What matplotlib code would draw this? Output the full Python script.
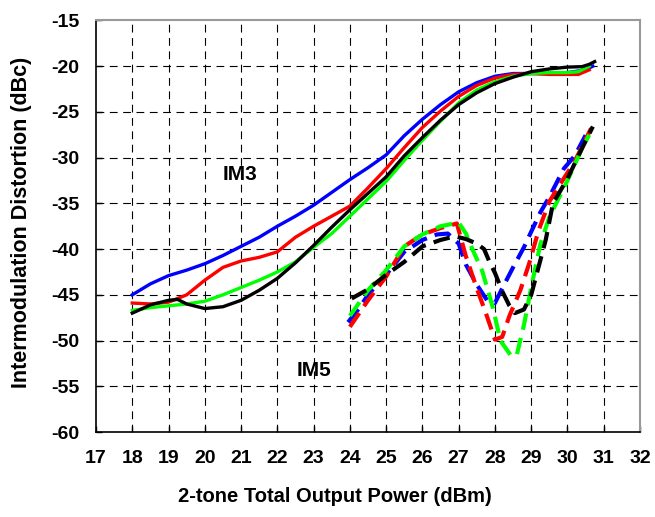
import matplotlib
matplotlib.use('Agg')
import matplotlib.pyplot as plt

plt.rcParams['font.family'] = ['Liberation Sans', 'DejaVu Sans']
plt.rcParams['font.weight'] = 'bold'
plt.rcParams['axes.unicode_minus'] = False

# IM3 curves (solid)
im3_blue_x = [18, 18.5, 19, 19.5, 20, 20.5, 21, 21.5, 22, 22.5, 23, 23.5, 24, 24.5, 25, 25.5, 26, 26.5,
              27, 27.5, 28, 28.5, 29, 29.5, 30, 30.5, 30.7]
im3_blue_y = [-45.0, -43.8, -42.9, -42.3, -41.6, -40.7, -39.7, -38.7, -37.5, -36.4, -35.2, -33.8, -32.4,
              -31.1, -29.7, -27.6, -25.8, -24.2, -22.8, -21.8, -21.1, -20.8, -20.8, -20.8, -20.7, -20.4, -20.0]

im3_red_x = [18, 18.5, 19, 19.5, 20, 20.5, 21, 21.5, 22, 22.5, 23, 23.5, 24, 24.5, 25, 25.5, 26, 26.5,
             27, 27.5, 28, 28.5, 29, 29.5, 30, 30.3, 30.6]
im3_red_y = [-45.9, -46.0, -45.8, -45.0, -43.4, -42.0, -41.3, -40.9, -40.3, -38.7, -37.5, -36.4, -35.3,
             -33.3, -31.2, -28.9, -26.7, -24.9, -23.3, -22.1, -21.3, -20.9, -20.8, -20.9, -20.9, -20.9, -20.4]

im3_green_x = [18, 18.5, 19, 19.5, 20, 20.5, 21, 21.5, 22, 22.5, 23, 23.5, 24, 24.5, 25, 25.5, 26, 26.5,
               27, 27.5, 28, 28.5, 29, 29.5, 30, 30.3, 30.6]
im3_green_y = [-46.7, -46.4, -46.2, -46.0, -45.7, -45.0, -44.2, -43.4, -42.5, -41.4, -39.8, -38.3, -36.4,
               -34.5, -32.6, -30.3, -28.1, -26.0, -24.0, -22.6, -21.7, -21.1, -20.8, -20.7, -20.7, -20.6, -20.0]

im3_black_x = [18, 18.5, 19, 19.25, 19.5, 20, 20.5, 21, 21.5, 22, 22.5, 23, 23.5, 24, 24.5, 25, 25.5, 26,
               26.5, 27, 27.5, 28, 28.5, 29, 29.5, 30, 30.4, 30.6, 30.75]
im3_black_y = [-47.0, -46.1, -45.6, -45.5, -46.0, -46.5, -46.3, -45.6, -44.5, -43.2, -41.5, -39.6, -37.6,
               -35.7, -33.9, -32.1, -29.8, -27.8, -25.9, -24.2, -22.9, -21.9, -21.2, -20.6, -20.3, -20.1,
               -20.05, -19.8, -19.5]

# IM5 curves (dashed)
im5_blue_x = [23.95, 24.25, 24.5, 25, 25.5, 26, 26.4, 26.7, 27, 27.2, 27.5, 27.8, 28.0, 28.2, 28.5, 28.8,
              29.0, 29.25, 29.5, 29.9, 30.2, 30.6]
im5_blue_y = [-48.0, -46.5, -45.0, -42.8, -40.3, -39.0, -38.4, -38.3, -39.4, -41.7, -43.9, -45.7, -45.9,
              -44.3, -42.0, -39.8, -38.1, -36.0, -34.3, -31.2, -29.8, -26.8]

im5_red_x = [24.0, 24.5, 25, 25.5, 26, 26.5, 26.95, 27.2, 27.5, 27.75, 28.0, 28.2, 28.4, 28.7, 28.95,
             29.2, 29.5, 29.8, 30.2, 30.65]
im5_red_y = [-48.5, -45.6, -43.0, -39.7, -38.4, -37.7, -37.2, -40.8, -44.3, -47.0, -49.9, -49.6, -47.3,
             -44.5, -41.5, -38.0, -34.8, -32.9, -30.4, -26.8]

im5_green_x = [24.0, 24.5, 25, 25.5, 26, 26.5, 27.0, 27.2, 27.4, 27.65, 27.95, 28.15, 28.45, 28.6, 28.8,
               29.0, 29.25, 29.5, 30.0, 30.4, 30.6]
im5_green_y = [-47.3, -44.5, -42.3, -39.7, -38.4, -37.5, -37.1, -38.3, -40.2, -42.4, -46.5, -50.0, -51.7,
               -51.6, -48.3, -44.2, -39.5, -36.5, -32.5, -29.0, -27.5]

im5_black_x = [24.05, 24.5, 25, 25.5, 26, 26.5, 26.9, 27.2, 27.5, 27.7, 27.85, 28.0, 28.2, 28.4, 28.55,
               28.8, 29.0, 29.2, 29.4, 29.6, 30.0, 30.3, 30.7]
im5_black_y = [-45.4, -44.4, -42.8, -41.4, -39.7, -39.0, -38.6, -38.9, -39.4, -40.0, -41.4, -42.6, -44.6,
               -46.2, -47.0, -46.6, -45.0, -42.0, -39.0, -35.0, -32.3, -29.8, -26.6]

x_ticks = list(range(17, 33))
y_ticks = list(range(-60, -14, 5))

fig = plt.figure(figsize=(6.55, 5.17), dpi=100)
ax = fig.add_axes([0.1466, 0.1644, 0.8305, 0.796])

# grid as dashed lines
for xv in x_ticks[1:-1]:
    ax.axvline(xv, color='black', lw=0.8, dashes=(7, 5), zorder=1)
for yv in y_ticks[1:-1]:
    ax.axhline(yv, color='black', lw=0.8, dashes=(7, 5), zorder=1)

lw3 = 2.4
ax.plot(im3_blue_x, im3_blue_y, color='#0000FF', lw=lw3, zorder=3)
ax.plot(im3_red_x, im3_red_y, color='#FF0000', lw=lw3, zorder=3)
ax.plot(im3_green_x, im3_green_y, color='#00FF00', lw=lw3, zorder=3)
ax.plot(im3_black_x, im3_black_y, color='black', lw=lw3, zorder=3)

lw5 = 3.0
ax.plot(im5_blue_x, im5_blue_y, color='#0000FF', lw=lw5, dashes=(4, 2), zorder=3)
ax.plot(im5_red_x, im5_red_y, color='#FF0000', lw=lw5, dashes=(4, 2), zorder=3)
ax.plot(im5_green_x, im5_green_y, color='#00FF00', lw=lw5, dashes=(4, 2), zorder=3)
ax.plot(im5_black_x, im5_black_y, color='black', lw=lw5, dashes=(4, 2), zorder=3)

ax.text(20.97, -31.8, 'IM3', fontsize=15, fontweight='bold', ha='center', va='center')
ax.text(23.0, -53.3, 'IM5', fontsize=15, fontweight='bold', ha='center', va='center')

ax.set_xlim(17, 32)
ax.set_ylim(-60, -15)
ax.set_xticks(x_ticks)
ax.set_yticks(y_ticks)
ax.tick_params(direction='in', length=4, width=1, labelsize=14)
ax.tick_params(axis='x', pad=13)
ax.tick_params(axis='y', pad=12)
for lab in ax.get_xticklabels() + ax.get_yticklabels():
    lab.set_fontweight('bold')

ax.spines['left'].set_color('black')
ax.spines['bottom'].set_color('black')
ax.spines['left'].set_linewidth(1.2)
ax.spines['bottom'].set_linewidth(1.2)
ax.spines['top'].set_color('#999999')
ax.spines['right'].set_color('#999999')
ax.spines['top'].set_linewidth(1.5)
ax.spines['right'].set_linewidth(1.5)

fig.text(335 / 655, 1 - 497 / 517, '2-tone Total Output Power (dBm)', fontsize=14.5, fontweight='bold',
         ha='center', va='center')
fig.text(22 / 655, 1 - 222 / 517, 'Intermodulation Distortion (dBc)', fontsize=15.5, fontweight='bold',
         ha='center', va='center', rotation=90)

plt.savefig('out.png', dpi=100)
